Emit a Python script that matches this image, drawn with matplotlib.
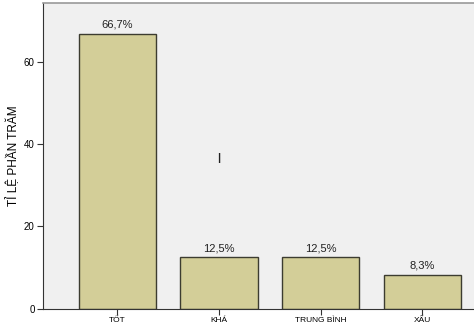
import matplotlib
matplotlib.use("Agg")
import matplotlib.pyplot as plt

# data
categories = ["TỐT", "KHÁ", "TRUNG BÌNH", "XẤU"]
percents = [66.7, 12.5, 12.5, 8.3]
bar_labels = ["66,7%", "12,5%", "12,5%", "8,3%"]
y_ticks = [0, 20, 40, 60]

plt.rcParams['font.family'] = ['Liberation Sans', 'DejaVu Sans']

fig = plt.figure(figsize=(4.74, 3.30), dpi=100)
fig.patch.set_facecolor('white')
ax = fig.add_axes([0.091, 0.064, 0.909, 0.927])
ax.set_facecolor('#f0f0f0')

x = list(range(len(categories)))
ax.bar(x, percents, width=0.76, color='#d3ce98', edgecolor='#3c3c30', linewidth=1.0, zorder=2)

for xi, val, lab in zip(x, percents, bar_labels):
    ax.text(xi, val + 1.0, lab, ha='center', va='bottom', fontsize=8, color='#222222')

# stray mark in the original picture
ax.text(1, 36.6, "|", ha='center', va='center', fontsize=8, fontweight='bold', color='#222222')

ax.set_xlim(-0.73, 3.51)
ax.set_ylim(0, 74.2)
ax.set_xticks(x)
ax.set_xticklabels(categories, fontsize=6)
ax.set_yticks(y_ticks)
ax.set_yticklabels([str(t) for t in y_ticks], fontsize=7)
ax.tick_params(axis='both', length=4, width=0.8, color='#333333', pad=2)
ax.set_ylabel("TỈ LỆ PHẦN TRĂM", fontsize=8.5, labelpad=3)

ax.spines['left'].set_color('#333333')
ax.spines['bottom'].set_color('#333333')
ax.spines['top'].set_color('#999999')
ax.spines['top'].set_linewidth(1.2)
ax.spines['right'].set_visible(False)

fig.savefig('out.png', dpi=100)
